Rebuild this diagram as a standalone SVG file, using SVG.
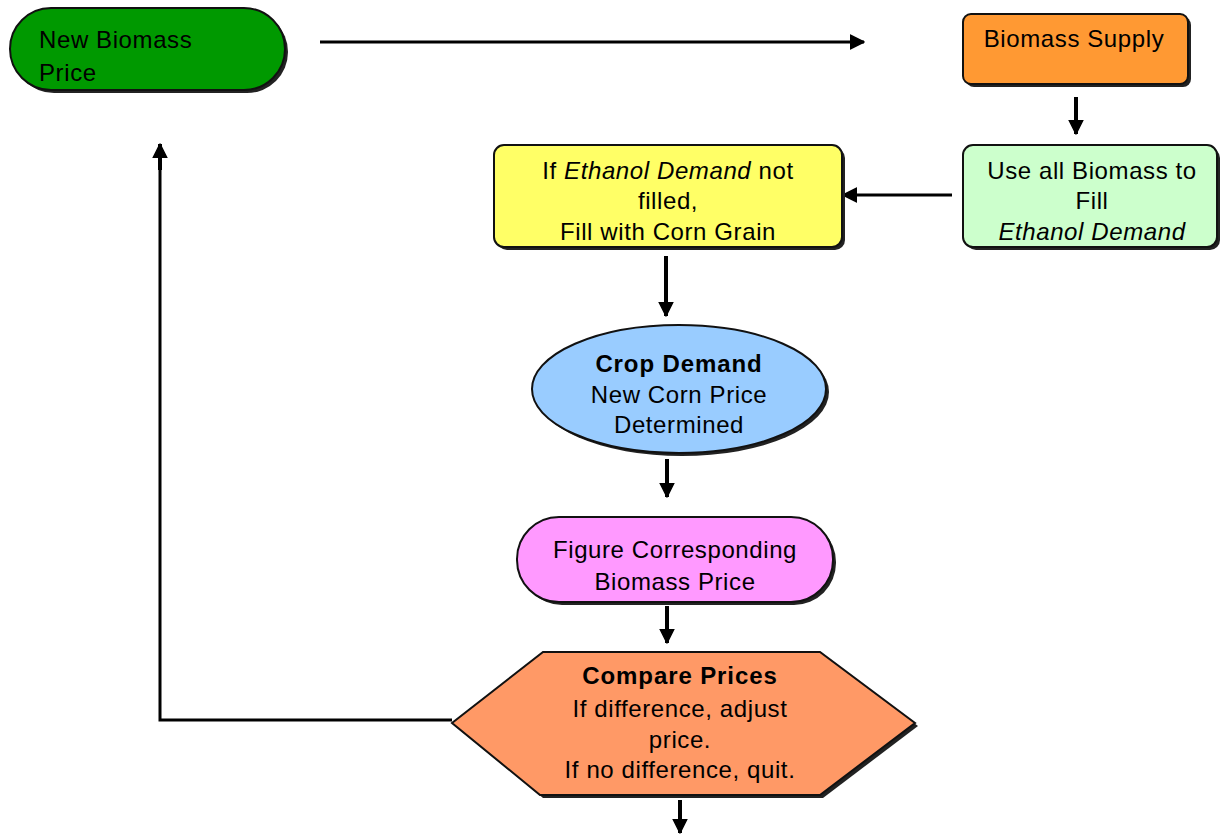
<svg xmlns="http://www.w3.org/2000/svg" width="1220" height="834" viewBox="0 0 1220 834">
<style>
.t{font-family:"Liberation Sans",Arial,sans-serif;font-size:24px;fill:#000;text-anchor:middle;letter-spacing:0.6px}
.b{font-weight:bold;letter-spacing:0.9px}
.i{font-style:italic}
.node{stroke:#111;stroke-width:2}
.sh{fill:#222}
.c{stroke:#000;stroke-width:4;fill:none}
.c2{stroke:#000;stroke-width:3;fill:none}
</style>
<defs>
<marker id="ah" markerUnits="userSpaceOnUse" markerWidth="20" markerHeight="20" refX="14" refY="8" orient="auto">
<path d="M0,1 L14,8 L0,15 Z" fill="#000" stroke="#000" stroke-width="1.5" stroke-linejoin="round"/>
</marker>
</defs>
<rect width="1220" height="834" fill="#fff"/>

<g id="connectors">
<line class="c2" x1="320" y1="42" x2="864" y2="42" marker-end="url(#ah)"/>
<line class="c" x1="1076" y1="97" x2="1076" y2="134" marker-end="url(#ah)"/>
<line class="c2" x1="952" y1="195" x2="843" y2="195" marker-end="url(#ah)"/>
<line class="c" x1="666" y1="256" x2="666" y2="316" marker-end="url(#ah)"/>
<line class="c" x1="667" y1="459" x2="667" y2="497" marker-end="url(#ah)"/>
<line class="c" x1="667" y1="606" x2="667" y2="643" marker-end="url(#ah)"/>
<line class="c" x1="680" y1="800" x2="680" y2="833" marker-end="url(#ah)"/>
<polyline class="c2" points="452,720 160,720 160,150"/>
<line class="c" x1="160" y1="170" x2="160" y2="144" marker-end="url(#ah)"/>
</g>

<g id="new-biomass-price">
<rect class="sh" x="13" y="11" width="275" height="82" rx="41"/>
<rect class="node" x="10" y="8" width="275" height="82" rx="41" fill="#009900"/>
<text class="t" x="39" y="48" style="text-anchor:start">New Biomass</text>
<text class="t" x="39" y="81" style="text-anchor:start">Price</text>
</g>

<g id="biomass-supply">
<rect class="sh" x="966" y="17" width="225" height="70" rx="8"/>
<rect class="node" x="963" y="14" width="225" height="70" rx="8" fill="#FF9933"/>
<text class="t" x="1074" y="47">Biomass Supply</text>
</g>

<g id="use-all-biomass">
<rect class="sh" x="966" y="148" width="254" height="102" rx="10"/>
<rect class="node" x="963" y="145" width="254" height="102" rx="10" fill="#CCFFCC"/>
<text class="t" x="1092" y="179">Use all Biomass to</text>
<text class="t" x="1092" y="209">Fill</text>
<text class="t i" x="1092" y="240">Ethanol Demand</text>
</g>

<g id="fill-corn-grain">
<rect class="sh" x="497" y="148" width="348" height="102" rx="10"/>
<rect class="node" x="494" y="145" width="348" height="102" rx="10" fill="#FFFF66"/>
<text class="t" x="668" y="179">If <tspan class="i">Ethanol Demand</tspan> not</text>
<text class="t" x="668" y="209">filled,</text>
<text class="t" x="668" y="240">Fill with Corn Grain</text>
</g>

<g id="crop-demand">
<ellipse class="sh" cx="682" cy="392" rx="147" ry="64"/>
<ellipse class="node" cx="679" cy="389" rx="147" ry="64" fill="#99CCFF"/>
<text class="t b" x="679" y="372">Crop Demand</text>
<text class="t" x="679" y="403">New Corn Price</text>
<text class="t" x="679" y="433">Determined</text>
</g>

<g id="biomass-price">
<rect class="sh" x="520" y="520" width="316" height="85" rx="42"/>
<rect class="node" x="517" y="517" width="316" height="85" rx="42" fill="#FF99FF"/>
<text class="t" x="675" y="558">Figure Corresponding</text>
<text class="t" x="675" y="590">Biomass Price</text>
</g>

<g id="compare-prices">
<polygon class="sh" points="546,655 823,655 918,726 823,798 543,798 455,726"/>
<polygon class="node" points="543,652 820,652 915,723 820,795 540,795 452,723" fill="#FF9966"/>
<text class="t b" x="680" y="684">Compare Prices</text>
<text class="t" x="680" y="717">If difference, adjust</text>
<text class="t" x="680" y="748">price.</text>
<text class="t" x="680" y="778">If no difference, quit.</text>
</g>
</svg>
